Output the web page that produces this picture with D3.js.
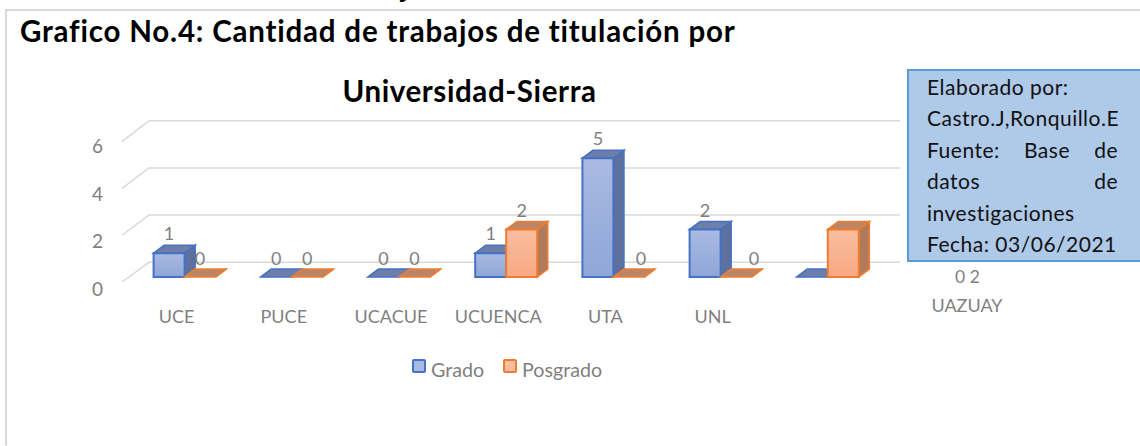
<!DOCTYPE html>
<html><head><meta charset="utf-8">
<script src="https://cdn.jsdelivr.net/npm/d3@7/dist/d3.min.js"></script>
<style>html,body{margin:0;padding:0;background:#fff}svg{display:block}text{font-family:Lato,"Open Sans",sans-serif;font-variant-ligatures:none}</style>
</head><body><svg id="c" width="1140" height="446"></svg>
<script>
const categories=["UCE","PUCE","UCACUE","UCUENCA","UTA","UNL","UAZUAY"];
const seriesNames=["Grado","Posgrado"];
const grado=[1,0,0,1,5,2,0];
const posgrado=[0,0,0,2,0,0,2];
const yTicks=[0,2,4,6];
const boxLines=["Elaborado por:","Castro.J,Ronquillo.E",["Fuente:","Base","de"],["datos","de"],"investigaciones","Fecha: 03/06/2021"];

const svg=d3.select("#c");
const defs=svg.append("defs");
function grad(id,a,b){const g=defs.append("linearGradient").attr("id",id).attr("x1",0).attr("x2",0).attr("y1",0).attr("y2",1);
 g.append("stop").attr("offset",0).attr("stop-color",a);g.append("stop").attr("offset",1).attr("stop-color",b);}
grad("gB","#a9bae2","#8fa6d8");grad("gO","#fbbd9f","#f8a883");
const blur=defs.append("filter").attr("id","soft").attr("x","-5%").attr("y","-5%").attr("width","110%").attr("height","110%");
blur.append("feGaussianBlur").attr("stdDeviation",0.45);

// frame
svg.append("path").attr("d","M6,445.5V10H1140").attr("fill","none").attr("stroke","#d9d9d9").attr("stroke-width",2);
// descender of the previous line, cut by the top edge as in the reference
svg.append("text").attr("x",401).attr("y",-3).attr("font-size",29.5).attr("font-weight",700).attr("fill","#000").text("j");

// titles
const titleStyle=s=>s.attr("font-size",29.5).attr("font-weight",700).attr("letter-spacing",0.8).attr("fill","#000");
svg.append("text").attr("x",20).attr("y",41.5).call(titleStyle).text("Grafico No.4: Cantidad de trabajos de titulación por");
svg.append("text").attr("x",469.5).attr("y",101.5).attr("text-anchor","middle").call(titleStyle).attr("letter-spacing",0.6).text("Universidad-Sierra");

// scales
const depthBar={dx:10.5,dy:-8};
const yFront=d3.scaleLinear().domain([0,6]).range([277,134.5]);
const yBack=d3.scaleLinear().domain([0,6]).range([262.3,120.7]);
const yAxisPos=d3.scaleLinear().domain([0,6]).range([282,141.7]);
const yLabel=d3.scaleLinear().domain([0,6]).range([296,153]);
const x=d3.scaleBand().domain(categories).range([131,881.4]);
const bw=x.bandwidth();
const xs=d3.scaleBand().domain(seriesNames).range([bw/2-31,bw/2+31]);

// gridlines
const gg=svg.append("g").attr("fill","none").attr("stroke","#d9d9d9").attr("stroke-width",1.5).attr("filter","url(#soft)");
yTicks.forEach(t=>{
 gg.append("path").attr("d",`M122,${yAxisPos(t)}L149,${yBack(t)}H900`);
});
// y labels
svg.append("g").selectAll("text").data(yTicks).join("text")
 .attr("x",97.5).attr("y",yLabel).attr("text-anchor","middle").attr("font-size",19).attr("fill","#7f7f7f").text(d=>d);

// bars
const colors={Grado:{f:"url(#gB)",s:"#4472c4",side:"#5f6f9c",top:"#6d7ea8"},Posgrado:{f:"url(#gO)",s:"#ed7d31",side:"#b07a5c",top:"#bd8566"}};
const rows=[];
categories.forEach((c,i)=>{rows.push({c,s:"Grado",v:grado[i]});rows.push({c,s:"Posgrado",v:posgrado[i]});});
const bars=svg.append("g").attr("filter","url(#soft)").selectAll("g").data(rows).join("g");
const {dx,dy}=depthBar;
const x0=d=>x(d.c)+xs(d.s), x1=d=>x0(d)+xs.bandwidth();
bars.append("path").attr("d",d=>`M${x1(d)},${yFront(d.v)}l${dx},${dy}V${yFront(0)+dy}l${-dx},${-dy}Z`)
 .attr("fill",d=>colors[d.s].side).attr("stroke",d=>colors[d.s].s).attr("stroke-width",1.6);
bars.append("path").attr("d",d=>`M${x0(d)},${yFront(d.v)}l${dx},${dy}H${x1(d)+dx}l${-dx},${-dy}Z`)
 .attr("fill",d=>colors[d.s].top).attr("stroke",d=>colors[d.s].s).attr("stroke-width",1.6);
bars.filter(d=>d.v>0).append("rect").attr("x",x0).attr("width",xs.bandwidth()).attr("y",d=>yFront(d.v)).attr("height",d=>yFront(0)-yFront(d.v))
 .attr("fill",d=>colors[d.s].f).attr("stroke",d=>colors[d.s].s).attr("stroke-width",2);

// value labels (UAZUAY's are displaced by the text box; zero Posgrado labels of UTA/UNL sit to the right)
const labelRows=rows.filter(d=>d.c!=="UAZUAY");
const nudge=d=>d.s==="Posgrado"?(d.c==="UTA"?12:d.c==="UNL"?18:0):0;
svg.append("g").selectAll("text").data(labelRows).join("text")
 .attr("x",d=>x0(d)+xs.bandwidth()/2+nudge(d))
 .attr("y",d=>yFront(d.v)-(d.v===0?12.5:13)).attr("text-anchor","middle").attr("font-size",18).attr("fill","#7f7f7f").text(d=>d.v);
const uz=categories.indexOf("UAZUAY");
svg.append("text").attr("x",967.5).attr("y",283).attr("text-anchor","middle").attr("font-size",17.5).attr("fill","#7f7f7f").text(grado[uz]+" "+posgrado[uz]);

// category axis
const axis=d3.axisBottom(x).tickSize(0).tickPadding(0);
const ax=svg.append("g").attr("transform","translate(-8,310.5)").call(axis);
ax.select(".domain").remove();
ax.selectAll("text").attr("font-size",18).attr("fill","#7f7f7f").style("font-family","Lato");
ax.selectAll(".tick").filter(d=>d==="UAZUAY").attr("transform","translate(975,-11.5)");

// legend
const lg=svg.append("g").selectAll("g").data([{n:"Grado",x:413,tx:431},{n:"Posgrado",x:504,tx:522}]).join("g");
lg.append("rect").attr("x",d=>d.x).attr("y",360).attr("width",12).attr("height",12).attr("rx",1)
 .attr("fill",d=>d.n==="Grado"?"#a9bae2":"#fbbd9f").attr("stroke",d=>colors[d.n].s).attr("stroke-width",2);
lg.append("text").attr("x",d=>d.tx).attr("y",376.5).attr("font-size",19.7).attr("fill","#7f7f7f").text(d=>d.n);

// text box
svg.append("rect").attr("x",908).attr("y",70).attr("width",234).attr("height",191).attr("fill","#afc9e8").attr("stroke","#5b9bd5").attr("stroke-width",2);
const L=927,R=1118;
const boxText=s=>s.attr("font-size",21).attr("letter-spacing",0.5).attr("fill","#111");
boxLines.forEach((ln,i)=>{
 const y=94.5+i*31.5;
 if(typeof ln==="string"){svg.append("text").attr("x",L).attr("y",y).call(boxText).text(ln);}
 else{ // justified line: equal gaps between measured words
  const nodes=ln.map(w=>svg.append("text").attr("y",y).call(boxText).text(w));
  const widths=nodes.map(n=>n.node().getComputedTextLength());
  const gap=(R-L-d3.sum(widths))/(ln.length-1);
  let cx=L;
  nodes.forEach((n,j)=>{n.attr("x",cx);cx+=widths[j]+gap;});
 }
});
</script></body></html>
